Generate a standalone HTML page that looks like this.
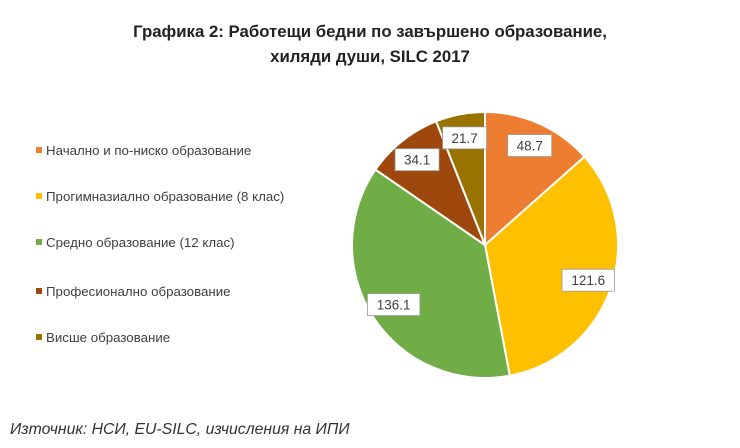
<!DOCTYPE html>
<html><head><meta charset="utf-8">
<style>
body{margin:0;background:#fff;width:740px;height:448px;overflow:hidden;font-family:"Liberation Sans","DejaVu Sans",sans-serif;}
.title{position:absolute;left:0;width:740px;text-align:center;top:19px;font-weight:bold;font-size:16.8px;line-height:25px;color:#222;}
.leg{position:absolute;left:36px;font-size:13.3px;color:#404040;}
.leg span{display:inline-block;width:6px;height:6px;margin-right:4px;vertical-align:middle;position:relative;top:-1px}
.src{position:absolute;left:10px;top:421px;font-style:italic;font-size:15.8px;color:#333;}
</style></head><body>
<div class="title">Графика 2: Работещи бедни по завършено образование,<br>хиляди души, SILC 2017</div>
<div id="legend"></div>
<svg id="pie" width="740" height="448" style="position:absolute;left:0;top:0"></svg>
<div class="src">Източник: НСИ, EU-SILC, изчисления на ИПИ</div>
<script>
const categories=["Начално и по-ниско образование","Прогимназиално образование (8 клас)","Средно образование (12 клас)","Професионално образование","Висше образование"];
const values=[48.7,121.6,136.1,34.1,21.7];
const colors=["#ED7D31","#FFC000","#70AD47","#9E480E","#997300"];
const cx=485,cy=245,r=133;
const svg=document.getElementById('pie');const NS="http://www.w3.org/2000/svg";
const total=values.reduce((a,b)=>a+b,0);
function pt(a,rr){return [cx+rr*Math.sin(a),cy-rr*Math.cos(a)];}
let acc=0;
values.forEach((v,i)=>{
 const a0=acc/total*2*Math.PI;acc+=v;const a1=acc/total*2*Math.PI;
 const p0=pt(a0,r),p1=pt(a1,r);
 const path=document.createElementNS(NS,'path');
 path.setAttribute('d',`M${cx},${cy}L${p0[0]},${p0[1]}A${r},${r} 0 ${a1-a0>Math.PI?1:0} 1 ${p1[0]},${p1[1]}Z`);
 path.setAttribute('fill',colors[i]);path.setAttribute('stroke','#fff');path.setAttribute('stroke-width','2');
 
 
 svg.appendChild(path);
});
acc=0;
values.forEach((v,i)=>{
 const am=(acc+v/2)/total*2*Math.PI;acc+=v;
 const p=pt(am,r*0.82);const t=v.toFixed(1);const w=t.length*8.5+10;
 const g=document.createElementNS(NS,'g');
 
 
 const rc=document.createElementNS(NS,'rect');
 rc.setAttribute('x',p[0]-w/2);rc.setAttribute('y',p[1]-11);rc.setAttribute('width',w);rc.setAttribute('height',22);
 rc.setAttribute('fill','#fff');rc.setAttribute('stroke','#999');rc.setAttribute('stroke-width','0.8');
 const tx=document.createElementNS(NS,'text');
 tx.setAttribute('x',p[0]);tx.setAttribute('y',p[1]+5);tx.setAttribute('text-anchor','middle');
 tx.setAttribute('font-size','13.5');tx.setAttribute('fill','#404040');tx.setAttribute('font-family','Liberation Sans, sans-serif');
 tx.textContent=t;g.appendChild(rc);g.appendChild(tx);svg.appendChild(g);
});
const lg=document.getElementById('legend');
const ly=[143,189,235,284,330];
categories.forEach((c,i)=>{
 const d=document.createElement('div');d.className='leg';d.style.top=ly[i]+'px';
 
 
 d.innerHTML=`<span style="background:${colors[i]}"></span>${c}`;lg.appendChild(d);
});
</script>
</body></html>
